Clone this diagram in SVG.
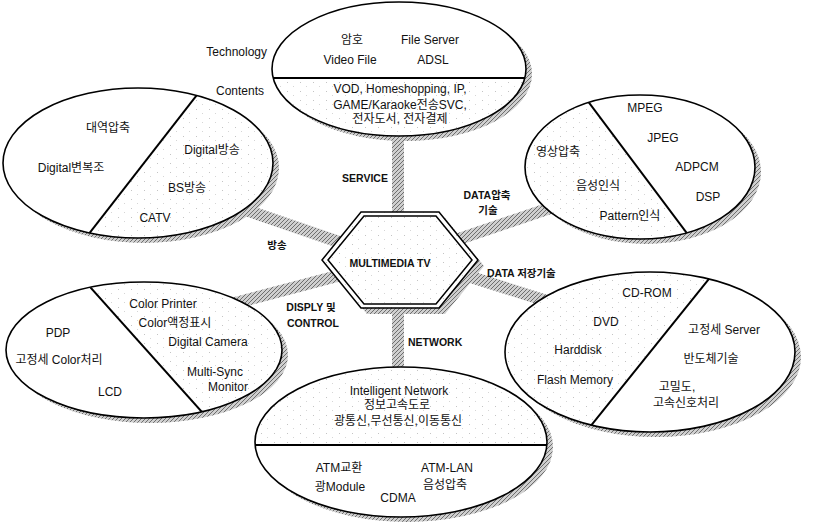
<svg xmlns="http://www.w3.org/2000/svg" width="813" height="524" viewBox="0 0 813 524">
<defs>
<pattern id="hatch" width="4" height="4" patternUnits="userSpaceOnUse">
<rect width="4" height="4" fill="#cfcfcf"/>
<path d="M0,4 L4,0 M-1,1 L1,-1 M3,5 L5,3" stroke="#6e6e6e" stroke-width="1"/>
</pattern>
<pattern id="dots" width="13" height="9" patternUnits="userSpaceOnUse">
<rect width="13" height="9" fill="#fff"/>
<rect x="1" y="1" width="1" height="1" fill="#c4c4c4"/>
<rect x="7" y="5" width="1" height="1" fill="#d6d6d6"/>
</pattern>
<clipPath id="c1"><ellipse cx="399" cy="69" rx="127" ry="67"/></clipPath>
<clipPath id="c2"><ellipse cx="138" cy="163" rx="135" ry="75"/></clipPath>
<clipPath id="c3"><ellipse cx="640" cy="167" rx="115" ry="72"/></clipPath>
<clipPath id="c4"><ellipse cx="144" cy="350" rx="138" ry="68"/></clipPath>
<clipPath id="c5"><ellipse cx="650" cy="352" rx="145" ry="80"/></clipPath>
<clipPath id="c6"><ellipse cx="401" cy="442" rx="146" ry="75"/></clipPath>
</defs>
<style>
.t{font-family:"Liberation Sans","Noto Sans CJK KR",sans-serif;font-size:12px;fill:#111;text-anchor:middle}
.s{text-anchor:start}
.r{text-anchor:end}
.b{font-weight:bold;font-size:10.5px}
.e{fill:none;stroke:#000;stroke-width:1.6}
.w{fill:#fff}
.sh{fill:url(#hatch)}
.st{fill:url(#dots)}
.dv{stroke:#000;stroke-width:2;fill:none}
.cn{stroke:url(#hatch);stroke-width:12;fill:none}
</style>
<rect width="813" height="524" fill="#fff"/>

<g id="connectors">
<line class="cn" x1="398" y1="125" x2="398" y2="220"/>
<line class="cn" x1="240" y1="208" x2="345" y2="244"/>
<line class="cn" x1="450" y1="242" x2="565" y2="203"/>
<line class="cn" x1="235" y1="303" x2="345" y2="274"/>
<line class="cn" x1="455" y1="272" x2="550" y2="302"/>
<line class="cn" x1="398" y1="300" x2="398" y2="372"/>
</g>

<g id="labels">
<text class="t b" x="365" y="182">SERVICE</text>
<text class="t b" x="277" y="249">방송</text>
<text class="t b" x="487" y="199">DATA압축</text>
<text class="t b" x="488" y="214">기술</text>
<text class="t b" x="311" y="311">DISPLY 및</text>
<text class="t b" x="313" y="327">CONTROL</text>
<text class="t b s" x="408" y="346">NETWORK</text>
<text class="t b s" x="487" y="277">DATA 저장기술</text>
</g>

<g id="node-service">
<ellipse class="sh" cx="405" cy="74" rx="127" ry="67"/>
<ellipse class="w" cx="399" cy="69" rx="127" ry="67"/>
<rect class="st" x="270" y="78" width="260" height="60" clip-path="url(#c1)"/>
<line class="dv" x1="272" y1="78" x2="526" y2="78" clip-path="url(#c1)"/>
<ellipse class="e" cx="399" cy="69" rx="127" ry="67"/>
<text class="t" x="352" y="44">암호</text>
<text class="t" x="430" y="44">File Server</text>
<text class="t" x="350" y="64">Video File</text>
<text class="t" x="433" y="64">ADSL</text>
<text class="t" x="400" y="93">VOD, Homeshopping, IP,</text>
<text class="t" x="400" y="109">GAME/Karaoke전송SVC,</text>
<text class="t" x="400" y="123">전자도서, 전자결제</text>
<text class="t r" x="267" y="56">Technology</text>
<text class="t r" x="264" y="95">Contents</text>
</g>

<g id="node-broadcast">
<ellipse class="sh" cx="144" cy="168" rx="135" ry="75"/>
<ellipse class="w" cx="138" cy="163" rx="135" ry="75"/>
<polygon class="st" points="221,64 300,64 300,262 67,262" clip-path="url(#c2)"/>
<line class="dv" x1="221" y1="64" x2="67" y2="262" clip-path="url(#c2)"/>
<ellipse class="e" cx="138" cy="163" rx="135" ry="75"/>
<text class="t" x="108" y="132">대역압축</text>
<text class="t" x="71" y="172">Digital변복조</text>
<text class="t" x="212" y="154">Digital방송</text>
<text class="t" x="187" y="192">BS방송</text>
<text class="t" x="155" y="222">CATV</text>
</g>

<g id="node-compression">
<ellipse class="sh" cx="646" cy="172" rx="115" ry="72"/>
<ellipse class="w" cx="640" cy="167" rx="115" ry="72"/>
<polygon class="st" points="569,76 707,260 500,260 500,76" clip-path="url(#c3)"/>
<line class="dv" x1="569" y1="76" x2="707" y2="260" clip-path="url(#c3)"/>
<ellipse class="e" cx="640" cy="167" rx="115" ry="72"/>
<text class="t" x="645" y="112">MPEG</text>
<text class="t" x="663" y="142">JPEG</text>
<text class="t" x="697" y="171">ADPCM</text>
<text class="t" x="708" y="201">DSP</text>
<text class="t" x="558" y="156">영상압축</text>
<text class="t" x="598" y="190">음성인식</text>
<text class="t" x="630" y="220">Pattern인식</text>
</g>

<g id="node-display">
<ellipse class="sh" cx="150" cy="355" rx="138" ry="68"/>
<ellipse class="w" cx="144" cy="350" rx="138" ry="68"/>
<polygon class="st" points="65,259 300,259 300,440 227,440" clip-path="url(#c4)"/>
<line class="dv" x1="65" y1="259" x2="227" y2="440" clip-path="url(#c4)"/>
<ellipse class="e" cx="144" cy="350" rx="138" ry="68"/>
<text class="t" x="163" y="308">Color Printer</text>
<text class="t" x="175" y="327">Color액정표시</text>
<text class="t" x="208" y="346">Digital Camera</text>
<text class="t" x="215" y="376">Multi-Sync</text>
<text class="t" x="228" y="391">Monitor</text>
<text class="t" x="58" y="337">PDP</text>
<text class="t" x="59" y="364">고정세 Color처리</text>
<text class="t" x="110" y="396">LCD</text>
</g>

<g id="node-storage">
<ellipse class="sh" cx="656" cy="357" rx="145" ry="80"/>
<ellipse class="w" cx="650" cy="352" rx="145" ry="80"/>
<polygon class="st" points="737,244 569,453 480,453 480,244" clip-path="url(#c5)"/>
<line class="dv" x1="737" y1="244" x2="569" y2="453" clip-path="url(#c5)"/>
<ellipse class="e" cx="650" cy="352" rx="145" ry="80"/>
<text class="t" x="647" y="297">CD-ROM</text>
<text class="t" x="606" y="326">DVD</text>
<text class="t" x="578" y="354">Harddisk</text>
<text class="t" x="575" y="384">Flash Memory</text>
<text class="t" x="724" y="334">고정세 Server</text>
<text class="t" x="711" y="363">반도체기술</text>
<text class="t" x="677" y="391">고밀도,</text>
<text class="t" x="686" y="407">고속신호처리</text>
</g>

<g id="node-network">
<ellipse class="sh" cx="407" cy="447" rx="146" ry="75"/>
<ellipse class="w" cx="401" cy="442" rx="146" ry="75"/>
<rect class="st" x="250" y="360" width="300" height="85" clip-path="url(#c6)"/>
<line class="dv" x1="250" y1="445" x2="550" y2="445" clip-path="url(#c6)"/>
<ellipse class="e" cx="401" cy="442" rx="146" ry="75"/>
<text class="t" x="399" y="395">Intelligent Network</text>
<text class="t" x="397" y="409">정보고속도로</text>
<text class="t" x="398" y="425">광통신,무선통신,이동통신</text>
<text class="t" x="339" y="472">ATM교환</text>
<text class="t" x="340" y="491">광Module</text>
<text class="t" x="398" y="502">CDMA</text>
<text class="t" x="447" y="472">ATM-LAN</text>
<text class="t" x="445" y="489">음성압축</text>
</g>

<g id="node-center">
<polygon class="sh" points="328,266 367,218 445,218 484,266 445,314 367,314"/>
<polygon class="st" points="322,260 361,212 439,212 478,260 439,308 361,308" stroke="#000" stroke-width="1.5"/>
<polygon points="328,260 364,216 436,216 472,260 436,304 364,304" fill="none" stroke="#000" stroke-width="1.5"/>
<text class="t b" x="390" y="267">MULTIMEDIA TV</text>
</g>
</svg>
